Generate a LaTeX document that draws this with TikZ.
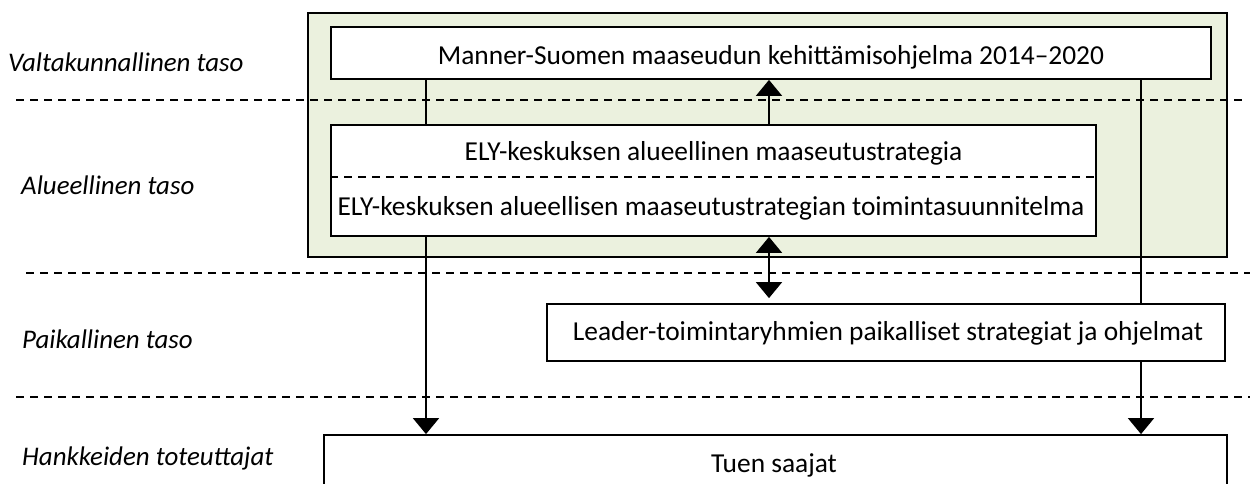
\documentclass[tikz,border=0pt]{standalone}
\usepackage{fontspec}
\setmainfont{Carlito}
\usepackage{xcolor}
\usepackage{tikz}
\usetikzlibrary{
    positioning,
    calc,
    arrows.meta
}
\definecolor{regiongreen}{RGB}{235,241,222}
\tikzset{
  basic/.style = {
      draw,
      line width=1.8pt,
      rectangle,
      fill=white,
      inner sep=0pt
  },
  region/.style = {
      basic,
      fill=regiongreen
  },
  plain/.style = {
      inner sep=0pt,
      anchor=base,
      font=\fontsize{27.4pt}{33pt}\selectfont
  },
  level/.style = {
      plain,
      anchor=base west,
      font=\fontsize{26.9pt}{33pt}\selectfont\itshape
  },
  divider/.style = {
      line width=1.5pt,
      dash pattern=on 8pt off 6pt
  },
  edge/.style = {
      line width=1.8pt
  },
  head/.style = {
      edge,
      -{Triangle[length=16pt,width=26pt]}
  },
  twohead/.style = {
      edge,
      {Triangle[length=16pt,width=26pt]}-{Triangle[length=16pt,width=26pt]}
  }
}

\begin{document}
\begin{tikzpicture}[x=1pt,y=-1pt]
    \useasboundingbox (0,0) rectangle (1250,483);
    \node[region, minimum width=919pt, minimum height=244pt] (green) at (767.5,135) {};
    % Levels
    \draw[divider] (16,100) -- (1242,100);
    \draw[divider] (26,273) -- (1250,273);
    \draw[divider] (16,397) -- (1250,397);
    \node[level] (national) at (8,71) {Valtakunnallinen taso};
    \node[level] (regional) at (21,194) {Alueellinen taso};
    \node[level] (local) at (22,348) {Paikallinen taso};
    \node[level] (doers) at (22,465) {Hankkeiden toteuttajat};
    % Boxes
    \node[basic, minimum width=880pt, minimum height=52pt] (manner) at (771,53) {};
    \node[plain] (mannertext) at (771,64) {Manner-Suomen maaseudun kehittämisohjelma 2014–2020};
    \node[basic, minimum width=765pt, minimum height=111pt] (ely) at (713.5,180.5) {};
    \node[plain] (strategy) at (713.5,160) {ELY-keskuksen alueellinen maaseutustrategia};
    \node[plain] (plan) at (711,215) {ELY-keskuksen alueellisen maaseutustrategian toimintasuunnitelma};
    \draw[divider] (ely.west |- 0,177) -- (ely.east |- 0,177);
    \node[basic, minimum width=678pt, minimum height=57pt] (leader) at (886,332.5) {};
    \node[plain] (leadertext) at (888,340) {Leader-toimintaryhmien paikalliset strategiat ja ohjelmat};
    \node[basic, minimum width=903pt, minimum height=62pt] (saajat) at (775.5,466) {};
    \node[plain] (saajattext) at (774,472) {Tuen saajat};
    % Edges
    \coordinate (lx) at (426,0);
    \coordinate (mx) at (769,0);
    \coordinate (rx) at (1141,0);
    \draw[edge] (lx |- manner.south) -- (lx |- ely.north);
    \draw[head] (lx |- ely.south) -- (lx |- saajat.north);
    \draw[head] (mx |- ely.north) -- (mx |- manner.south);
    \draw[twohead, shorten >=5pt] (mx |- ely.south) -- (mx |- leader.north);
    \draw[edge] (rx |- manner.south) -- (rx |- leader.north);
    \draw[head] (rx |- leader.south) -- (rx |- saajat.north);
\end{tikzpicture}
\end{document}
